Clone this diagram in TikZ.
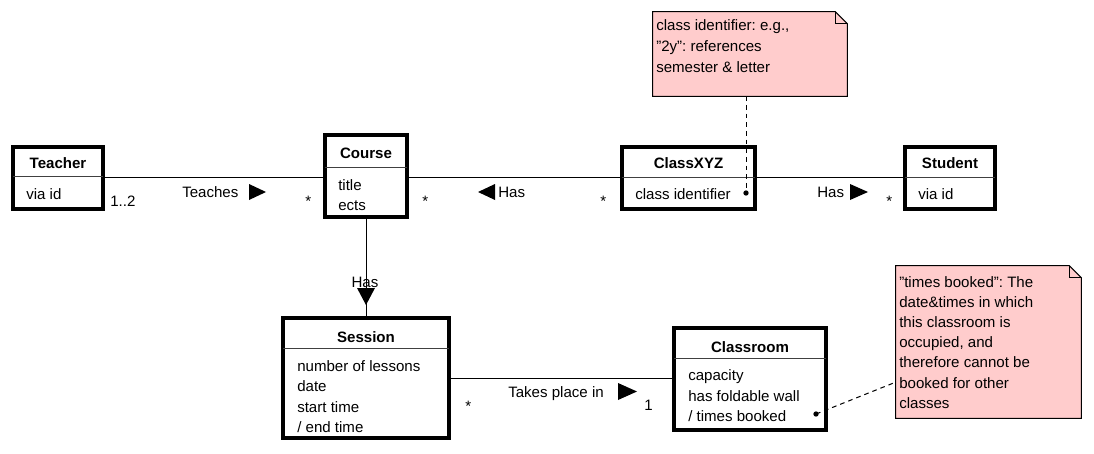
\documentclass[tikz,border=0pt]{standalone}
\usepackage{fontspec}
\setmainfont{Liberation Sans}
\usetikzlibrary{fit}
\definecolor{notepink}{RGB}{255,204,204}
\frenchspacing
\begin{document}
\begin{tikzpicture}[x=0.75pt,y=-0.75pt,
  every node/.style={font=\fontsize{11.3}{15.2}\selectfont, inner sep=0pt},
  box/.style={draw, line width=2.3pt, inner sep=0pt},
  div/.style={draw=black!75, line width=0.75pt},
  ctitle/.style={font=\fontsize{11.3}{15.2}\selectfont\bfseries, anchor=base},
  attr/.style={anchor=base west},
  assoc/.style={line width=0.75pt},
  lbl/.style={anchor=base west},
  tri/.style={fill=black},
  notebox/.style={inner sep=0pt},
  noteshape/.style={draw, line width=0.75pt, fill=notepink},
  link/.style={line width=0.75pt, dash pattern=on 3.5pt off 3pt},
]
\useasboundingbox (0,0) rectangle (1094,453);

% ---------- classes ----------
\node[box, fit={(13,147) (103,209)}] (teacher) {};
\draw[div] (13,176) -- (103,176);
\node[ctitle] (teacherT) at (58,168) {Teacher};
\node[attr] (teacherA) at (26,199) {via id};

\node[box, fit={(325,135) (407,217)}] (course) {};
\draw[div] (325,167) -- (407,167);
\node[ctitle] (courseT) at (366,158) {Course};
\node[attr] (courseA1) at (338,190) {title};
\node[attr] (courseA2) at (338,210) {ects};

\node[box, fit={(622,147) (755,209)}] (classxyz) {};
\draw[div] (622,177) -- (755,177);
\node[ctitle] (classxyzT) at (688.5,168) {ClassXYZ};
\node[attr] (classxyzA) at (635,199) {class identifier};

\node[box, fit={(905,147) (995,209)}] (student) {};
\draw[div] (905,177) -- (995,177);
\node[ctitle] (studentT) at (950,168) {Student};
\node[attr] (studentA) at (918,199) {via id};

\node[box, fit={(283,318) (449,438)}] (session) {};
\draw[div] (283,348) -- (449,348);
\node[ctitle] (sessionT) at (366,342) {Session};
\node[attr] (sessionA1) at (297,371) {number of lessons};
\node[attr] (sessionA2) at (297,391.5) {date};
\node[attr] (sessionA3) at (297,412) {start time};
\node[attr] (sessionA4) at (297,432) {/ end time};

\node[box, fit={(674,328) (826,430)}] (classroom) {};
\draw[div] (674,358) -- (826,358);
\node[ctitle] (classroomT) at (750,352) {Classroom};
\node[attr] (classroomA1) at (688,380.5) {capacity};
\node[attr] (classroomA2) at (688,401) {has foldable wall};
\node[attr] (classroomA3) at (688,421) {/ times booked};

% ---------- associations ----------
\draw[assoc] (teacher.east |- 0,177) -- (course.west |- 0,177);
\node[lbl] (teachesL) at (182,197) {Teaches};
\fill[tri] (249,184) -- (249,200) -- (266,192) -- cycle;
\node[lbl] (m1) at (110,206) {1..2};
\node[lbl] (m2) at (305,206) {*};

\draw[assoc] (course.east |- 0,177) -- (classxyz.west |- 0,177);
\fill[tri] (495,184) -- (495,200) -- (478,192) -- cycle;
\node[lbl] (hasL1) at (498,197) {Has};
\node[lbl] (m3) at (422,206) {*};
\node[lbl] (m4) at (600,206) {*};

\draw[assoc] (classxyz.east |- 0,177) -- (student.west |- 0,177);
\node[lbl] (hasL2) at (817,197) {Has};
\fill[tri] (850,184) -- (850,200) -- (868,192) -- cycle;
\node[lbl] (m5) at (886,206) {*};

\draw[assoc] (course.south) -- (session.north);
\node[anchor=base] (hasL3) at (365,287) {Has};
\fill[tri] (357,288) -- (375,288) -- (366,305) -- cycle;

\draw[assoc] (session.east |- 0,378) -- (classroom.west |- 0,378);
\node[lbl] (takesL) at (508,397) {Takes place in};
\fill[tri] (618,383) -- (618,400) -- (637,391.5) -- cycle;
\node[lbl] (m6) at (465,411) {*};
\node[lbl] (m7) at (644,410) {1};

% ---------- notes ----------
\node[notebox, fit={(653,12) (847,96)}] (note1) {};
\draw[noteshape] (note1.south west) -- (note1.north west) -- ([xshift=-9pt]note1.north east)
  -- ([yshift=-9pt]note1.north east) -- (note1.south east) -- cycle;
\draw[line width=0.75pt] ([xshift=-9pt]note1.north east) -- ([xshift=-9pt,yshift=-9pt]note1.north east)
  -- ([yshift=-9pt]note1.north east);
\node[attr] (note1a) at (656,31) {class identifier: e.g.,};
\node[attr] (note1b) at (656,51.5) {\symbol{34}2y\symbol{34}: references};
\node[attr] (note1c) at (656,72) {semester \& letter};

\node[notebox, fit={(896,266) (1081,418)}] (note2) {};
\draw[noteshape] (note2.south west) -- (note2.north west) -- ([xshift=-9pt]note2.north east)
  -- ([yshift=-9pt]note2.north east) -- (note2.south east) -- cycle;
\draw[line width=0.75pt] ([xshift=-9pt]note2.north east) -- ([xshift=-9pt,yshift=-9pt]note2.north east)
  -- ([yshift=-9pt]note2.north east);
\node[attr] (note2a) at (899,287) {\symbol{34}times booked\symbol{34}: The};
\node[attr] (note2b) at (899,307.2) {date\&times in which};
\node[attr] (note2c) at (899,327.4) {this classroom is};
\node[attr] (note2d) at (899,347.6) {occupied, and};
\node[attr] (note2e) at (899,367.8) {therefore cannot be};
\node[attr] (note2f) at (899,388) {booked for other};
\node[attr] (note2g) at (899,408.2) {classes};

% ---------- note links ----------
\coordinate (dot1) at (746,193);
\coordinate (dot2) at (816,414);
\coordinate (n2a) at (896,382);
\draw[link] (note1.south -| dot1) -- (dot1);
\fill (dot1) circle (2pt);
\draw[link] (dot2) -- (n2a);
\fill (dot2) circle (2pt);
\end{tikzpicture}
\end{document}
